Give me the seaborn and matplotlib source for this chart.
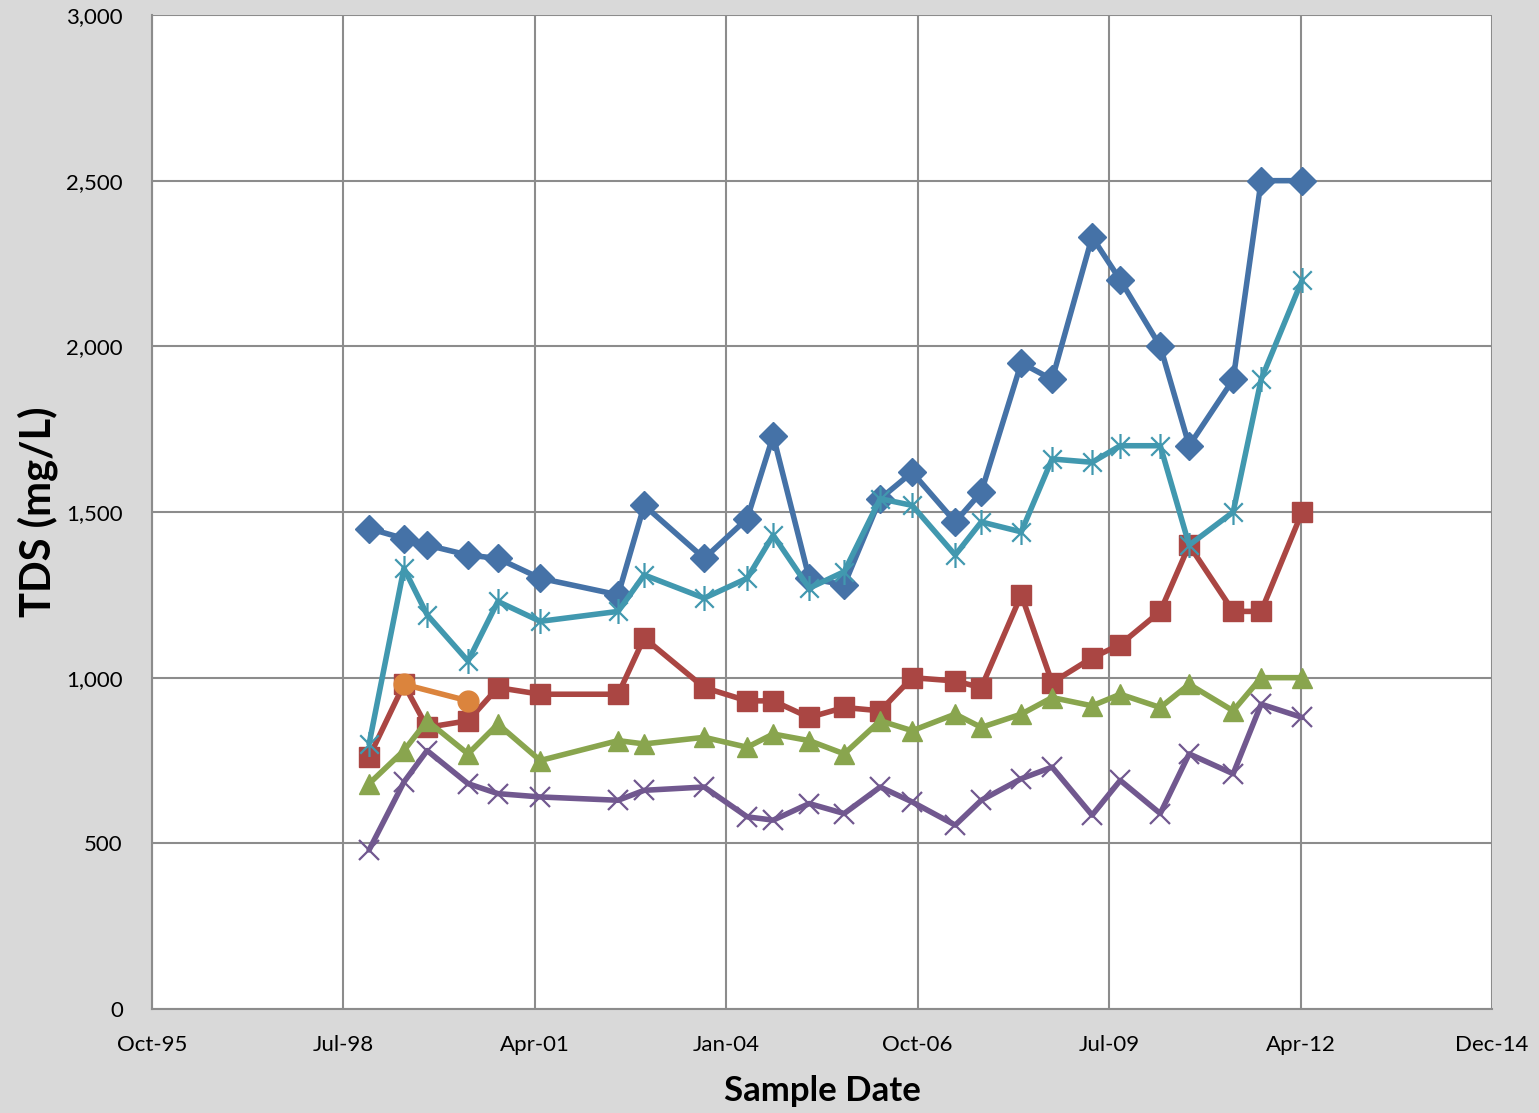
import numpy as np
import pandas as pd
import seaborn as sns
import matplotlib.pyplot as plt
import matplotlib.dates as mdates
from matplotlib.path import Path
from matplotlib.ticker import FuncFormatter, FixedLocator

# sample dates
sample_dates = ['1998-12-05', '1999-06-05', '1999-10-04', '2000-05-05', '2000-10-08',
                '2001-05-17', '2002-06-28', '2002-11-11', '2003-09-21', '2004-05-02',
                '2004-09-15', '2005-03-22', '2005-09-21', '2006-03-28', '2006-09-11',
                '2007-04-24', '2007-09-07', '2008-04-03', '2008-09-11', '2009-04-08',
                '2009-09-02', '2010-03-30', '2010-08-28', '2011-04-15', '2011-09-08',
                '2012-04-09']

# TDS (mg/L) per monitoring location
tds_blue = [1450, 1420, 1400, 1370, 1360, 1300, 1250, 1520, 1360, 1480, 1730, 1300, 1280,
            1540, 1620, 1470, 1560, 1950, 1900, 2330, 2200, 2000, 1700, 1900, 2500, 2500]
tds_red = [760, 980, 850, 870, 970, 950, 950, 1120, 970, 930, 930, 880, 910,
           900, 1000, 990, 970, 1250, 985, 1060, 1100, 1200, 1400, 1200, 1200, 1500]
tds_green = [680, 780, 870, 770, 860, 750, 810, 800, 820, 790, 830, 810, 770,
             870, 840, 890, 850, 890, 940, 915, 950, 910, 980, 900, 1000, 1000]
tds_purple = [480, 685, 780, 680, 650, 640, 630, 660, 670, 580, 570, 620, 590,
              670, 625, 555, 630, 695, 730, 585, 690, 590, 770, 710, 920, 880]
tds_cyan = [800, 1330, 1190, 1050, 1230, 1170, 1200, 1310, 1240, 1300, 1430, 1270, 1320,
            1540, 1520, 1370, 1470, 1440, 1660, 1650, 1700, 1700, 1400, 1500, 1900, 2200]
orange_dates = ['1999-06-05', '2000-05-05']
tds_orange = [980, 930]

y_ticks = [0, 500, 1000, 1500, 2000, 2500, 3000]

# Excel-like star marker: an x with a vertical bar
star = Path([(-1, -1), (1, 1), (-1, 1), (1, -1), (0, -1.35), (0, 1.35)],
            [Path.MOVETO, Path.LINETO, Path.MOVETO, Path.LINETO, Path.MOVETO, Path.LINETO])

dates = pd.to_datetime(sample_dates)
series = [
    (dates, tds_blue, '#4572A7', 'D', 14, 1.0, True),
    (dates, tds_red, '#AA4643', 's', 14, 1.0, True),
    (dates, tds_green, '#89A54E', '^', 15, 1.0, True),
    (dates, tds_purple, '#71588F', 'x', 14, 1.6, False),
    (dates, tds_cyan, '#4198AF', star, 18, 1.6, False),
    (pd.to_datetime(orange_dates), tds_orange, '#DB843D', 'o', 15, 1.0, True),
]

sns.set_style('white')
plt.rcParams['font.family'] = ['Lato', 'DejaVu Sans']

fig = plt.figure(figsize=(15.39, 11.13), dpi=100, facecolor='#D9D9D9')
ax = fig.add_axes([152 / 1539, 1 - 1009 / 1113, (1492 - 152) / 1539, (1009 - 15) / 1113])
ax.set_facecolor('white')

for x, y, color, marker, ms, mew, filled in series:
    frame = pd.DataFrame({'date': x, 'tds': y})
    kw = dict(markerfacecolor=color, markeredgecolor=color) if filled else dict(markeredgecolor=color)
    sns.lineplot(data=frame, x='date', y='tds', ax=ax, color=color, linewidth=4,
                 marker=marker, markersize=ms, markeredgewidth=mew, **kw)

start = pd.Timestamp('1995-10-28')
x_ticks = [start + pd.Timedelta(days=1000 * i) for i in range(8)]
ax.set_xlim(mdates.date2num(x_ticks[0]), mdates.date2num(x_ticks[-1]))
ax.xaxis.set_major_locator(FixedLocator(mdates.date2num(x_ticks)))
ax.xaxis.set_major_formatter(mdates.DateFormatter('%b-%y'))
ax.set_ylim(0, 3000)
ax.set_yticks(y_ticks)
ax.yaxis.set_major_formatter(FuncFormatter(lambda v, p: f'{v:,.0f}'))

ax.grid(True, color='#8C8C8C', linewidth=1.5)
ax.set_axisbelow(True)
for side in ['top', 'right']:
    ax.spines[side].set_visible(False)
for side in ['left', 'bottom']:
    ax.spines[side].set_color('#8C8C8C')
    ax.spines[side].set_linewidth(1.5)
ax.tick_params(axis='both', direction='out', length=7, width=1.5, color='#8C8C8C',
               labelsize=16, labelcolor='black')
ax.tick_params(axis='y', pad=14)
ax.tick_params(axis='x', pad=12)

ax.set_xlabel('Sample Date', fontsize=25, fontweight='bold', labelpad=14, color='black')
ax.set_ylabel('TDS (mg/L)', fontsize=30, fontweight='bold', labelpad=6, color='black')

fig.savefig('out.png', dpi=100, facecolor=fig.get_facecolor())
